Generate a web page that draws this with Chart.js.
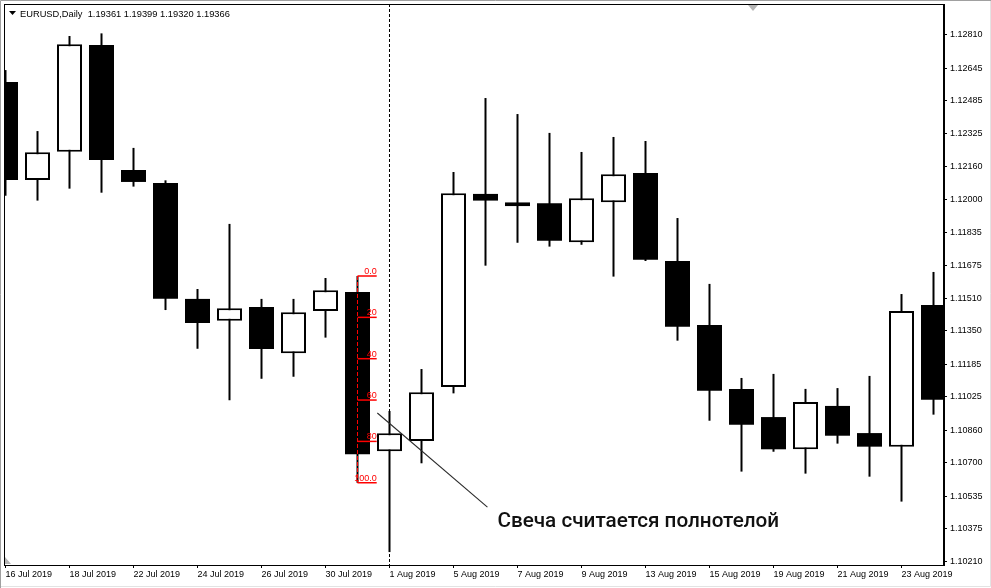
<!DOCTYPE html>
<html>
<head>
<meta charset="utf-8">
<script src="https://cdn.jsdelivr.net/npm/chart.js@4.4.1/dist/chart.umd.min.js"></script>
<style>
  html, body { margin: 0; padding: 0; background: #ffffff; }
  #wrap { width: 991px; height: 588px; position: relative; }
</style>
</head>
<body>
<div id="wrap"><canvas id="c" width="991" height="588"></canvas></div>
<script>
// ---------- data ----------
const dates = ['16 Jul 2019','17 Jul 2019','18 Jul 2019','19 Jul 2019','22 Jul 2019','23 Jul 2019','24 Jul 2019','25 Jul 2019','26 Jul 2019','29 Jul 2019','30 Jul 2019','31 Jul 2019','1 Aug 2019','2 Aug 2019','5 Aug 2019','6 Aug 2019','7 Aug 2019','8 Aug 2019','9 Aug 2019','12 Aug 2019','13 Aug 2019','14 Aug 2019','15 Aug 2019','16 Aug 2019','19 Aug 2019','20 Aug 2019','21 Aug 2019','22 Aug 2019','23 Aug 2019','26 Aug 2019'];
const opens  = [1.12578,1.12095,1.12234,1.12761,1.12144,1.12080,1.11508,1.11400,1.11468,1.11240,1.11448,1.11542,1.10756,1.10807,1.11073,1.12026,1.11965,1.11980,1.11787,1.11985,1.12129,1.11695,1.11379,1.11064,1.10925,1.10766,1.10980,1.10846,1.10779,1.11478];
const highs  = [1.12637,1.12336,1.12805,1.12818,1.12253,1.12093,1.11557,1.11878,1.11508,1.11508,1.11611,1.11621,1.10955,1.11162,1.12134,1.12499,1.12420,1.12327,1.12233,1.12307,1.12287,1.11907,1.11582,1.11118,1.11138,1.11064,1.11068,1.11128,1.11532,1.11641];
const lows   = [1.12017,1.11993,1.12052,1.12032,1.12062,1.11453,1.11262,1.11008,1.11114,1.11124,1.11317,1.10601,1.10259,1.10697,1.11042,1.11672,1.11785,1.11766,1.11775,1.11618,1.11695,1.11302,1.10907,1.10656,1.10754,1.10646,1.10794,1.10631,1.10508,1.10937];
const closes = [1.12095,1.12231,1.12764,1.12193,1.12085,1.11509,1.11389,1.11462,1.11261,1.11442,1.11551,1.10741,1.10845,1.11047,1.12029,1.11993,1.11985,1.11795,1.12004,1.12123,1.11701,1.11371,1.11055,1.10887,1.10766,1.10999,1.10833,1.10779,1.11448,1.11011];
const yTickLabels = ['1.10210','1.10375','1.10535','1.10700','1.10860','1.11025','1.11185','1.11350','1.11510','1.11675','1.11835','1.12000','1.12160','1.12325','1.12485','1.12645','1.12810'];
const headerText = 'EURUSD,Daily  1.19361 1.19399 1.19320 1.19366';
const fibCandle = 11;
const fibLevels = [0, 20, 40, 60, 80, 100];
const fibLabels = ['0.0', '20', '40', '60', '80', '100.0'];
const noteText = 'Свеча считается полнотелой';
const noteLine = [{x: 11.62, y: 1.10945}, {x: 15.06, y: 1.10481}];

// ---------- chart ----------
const idx = dates.map((d, i) => i);
const isUp = i => closes[i] >= opens[i];
const fibHigh = highs[fibCandle], fibLow = lows[fibCandle];
const fibPrice = p => fibHigh - (fibHigh - fibLow) * p / 100;
const FIB_LEN = 0.6;

const datasets = [
  {
    type: 'bar', label: 'body', order: 1, grouped: false, clip: 0,
    data: idx.map(i => ({x: i, y: [opens[i], closes[i]]})),
    backgroundColor: idx.map(i => isUp(i) ? '#ffffff' : '#000000'),
    borderColor: '#000000', borderWidth: idx.map(i => isUp(i) ? 2 : 0), borderSkipped: false,
    barThickness: 25, inflateAmount: 0
  },
  {
    type: 'bar', label: 'wick', order: 2, grouped: false, clip: 0,
    data: idx.map(i => ({x: i, y: [lows[i], highs[i]]})),
    backgroundColor: '#000000', borderWidth: 0, barThickness: 2, inflateAmount: 0
  },
  {
    type: 'line', label: 'fibAxis', order: 0,
    data: [{x: fibCandle, y: fibHigh}, {x: fibCandle, y: fibLow}],
    borderColor: '#ff0000', borderWidth: 1, borderDash: [4, 2], pointRadius: 0, fill: false
  },
  ...fibLevels.map(p => ({
    type: 'line', label: 'fib' + p, order: 0,
    data: [{x: fibCandle, y: fibPrice(p)}, {x: fibCandle + FIB_LEN, y: fibPrice(p)}],
    borderColor: '#ff0000', borderWidth: 1.5, pointRadius: 0, fill: false
  })),
  {
    type: 'line', label: 'note', order: 0,
    data: noteLine, borderColor: '#2a2a2a', borderWidth: 1.1, pointRadius: 0, fill: false
  }
];

const decor = {
  id: 'decor',
  beforeDatasetsDraw(chart) {
    const {ctx, chartArea: a, scales: {x}} = chart;
    ctx.save();
    ctx.strokeStyle = '#000'; ctx.lineWidth = 1; ctx.setLineDash([3, 2]);
    dates.forEach((d, i) => {
      if (i > 0 && d.split(' ')[1] !== dates[i - 1].split(' ')[1]) {
        const px = Math.floor(x.getPixelForValue(i)) + 0.5;
        ctx.beginPath(); ctx.moveTo(px, a.top); ctx.lineTo(px, a.bottom); ctx.stroke();
      }
    });
    ctx.restore();
  },
  afterDraw(chart) {
    const {ctx, chartArea: a, scales: {x, y}} = chart;
    ctx.save();
    // chart frame
    ctx.strokeStyle = '#000'; ctx.lineWidth = 1;
    ctx.strokeRect(a.left + 0.5, a.top + 0.5, a.right - a.left - 1, a.bottom - a.top);
    // fib labels
    ctx.fillStyle = '#ff0000'; ctx.font = '9px "Liberation Sans"';
    ctx.textAlign = 'right'; ctx.textBaseline = 'alphabetic';
    const fx = x.getPixelForValue(fibCandle + FIB_LEN);
    fibLevels.forEach((p, k) => {
      ctx.fillText(fibLabels[k], fx, y.getPixelForValue(fibPrice(p)) - 2);
    });
    // note text
    const ex = x.getPixelForValue(noteLine[1].x), ey = y.getPixelForValue(noteLine[1].y);
    ctx.fillStyle = '#111'; ctx.textAlign = 'left';
    ctx.font = '500 20.7px Roboto';
    ctx.fillText(noteText, ex + 10, ey + 20);
    // header
    ctx.fillStyle = '#000';
    ctx.beginPath(); ctx.moveTo(9, 11); ctx.lineTo(16, 11); ctx.lineTo(12.5, 15); ctx.closePath(); ctx.fill();
    ctx.font = '9.3px "Liberation Sans"';
    ctx.fillText(headerText, 20, 17);
    // small gray markers
    ctx.fillStyle = '#b4b4b4';
    ctx.beginPath(); ctx.moveTo(748, 5); ctx.lineTo(758, 5); ctx.lineTo(753, 11); ctx.closePath(); ctx.fill();
    ctx.beginPath(); ctx.moveTo(5, 557); ctx.lineTo(5, 564); ctx.lineTo(11, 564); ctx.closePath(); ctx.fill();
    // outer window frame
    ctx.strokeStyle = '#a0a0a0';
    ctx.beginPath(); ctx.moveTo(0.5, 588); ctx.lineTo(0.5, 0.5); ctx.lineTo(991, 0.5); ctx.stroke();
    ctx.strokeStyle = '#e3e3e3';
    ctx.beginPath(); ctx.moveTo(1, 586.5); ctx.lineTo(990.5, 586.5); ctx.lineTo(990.5, 1); ctx.stroke();
    ctx.restore();
  }
};

Chart.defaults.font.family = '"Liberation Sans", Arial, sans-serif';
Chart.defaults.font.size = 9;
Chart.defaults.color = '#000';

const noPad = s => { s.paddingTop = 0; s.paddingBottom = 0; s.paddingLeft = 0; s.paddingRight = 0; };

new Chart(document.getElementById('c'), {
  type: 'bar',
  data: {datasets},
  options: {
    responsive: false, animation: false, events: [],
    layout: {padding: {left: 4, top: 4, right: 0, bottom: 0}},
    plugins: {legend: {display: false}, tooltip: {enabled: false}, title: {display: false}},
    scales: {
      x: {
        type: 'linear', min: -0.046875, max: 29.328125, offset: false,
        afterBuildTicks: s => { s.ticks = idx.filter(i => i % 2 === 0).map(i => ({value: i})); },
        afterFit: s => { s.height = 23; noPad(s); },
        ticks: {callback: v => dates[v], align: 'start', maxRotation: 0, minRotation: 0, autoSkip: false, padding: 1, color: '#000', font: {size: 9}},
        grid: {drawOnChartArea: false, tickLength: 3, color: '#000', offset: false},
        border: {display: true, color: '#000'}
      },
      y: {
        type: 'linear', position: 'right', min: 1.1019519, max: 1.1296294,
        afterBuildTicks: s => { s.ticks = yTickLabels.map(t => ({value: parseFloat(t)})); },
        afterFit: s => { s.width = 47; noPad(s); },
        ticks: {callback: (v, i) => yTickLabels[i], autoSkip: false, padding: 3, color: '#000', font: {size: 9}},
        grid: {drawOnChartArea: false, tickLength: 3, color: '#000'},
        border: {display: true, color: '#000'}
      }
    }
  },
  plugins: [decor]
});
</script>
</body>
</html>
